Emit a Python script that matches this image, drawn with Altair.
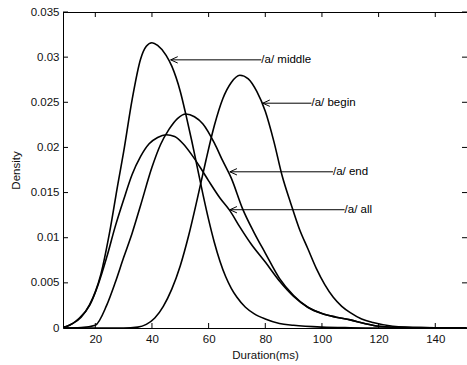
import altair as alt
import pandas as pd

# ---- curve data ----
x_middle = [8.6, 10, 12, 15, 18, 20, 22, 25, 28, 30, 33, 36, 38, 40, 42, 45, 47, 50, 52, 54, 56, 58, 60, 62, 64, 66, 68, 70, 73, 76, 80, 85, 90, 100, 110, 120, 151]
d_middle = [0.0001, 0.0002, 0.0005, 0.0012, 0.0026, 0.004, 0.006, 0.0105, 0.016, 0.0195, 0.0253, 0.0298, 0.0312, 0.0316, 0.0313, 0.0302, 0.029, 0.0262, 0.0236, 0.0208, 0.0178, 0.0148, 0.012, 0.0095, 0.0074, 0.0057, 0.0044, 0.0034, 0.0023, 0.0016, 0.001, 0.0005, 0.0003, 0.0001, 0.00003, 0.0, 0.0]

x_begin = [8.6, 30, 35, 38, 41, 44, 47, 50, 53, 56, 59, 62, 65, 68, 71, 74, 77, 80, 83, 86, 89, 92, 95, 98, 101, 104, 107, 110, 114, 118, 125, 135, 151]
d_begin = [0.0, 0.0, 0.0001, 0.0004, 0.0011, 0.0024, 0.0043, 0.0069, 0.0103, 0.0143, 0.0185, 0.0224, 0.0254, 0.0272, 0.028, 0.0276, 0.0262, 0.024, 0.0207, 0.0168, 0.0138, 0.011, 0.0088, 0.0066, 0.0048, 0.0034, 0.0024, 0.0017, 0.001, 0.0006, 0.0002, 0.00005, 0.0]

x_end = [8.6, 15, 20, 24, 27, 30, 33, 36, 40, 43, 46, 49, 52, 55, 58, 62, 65, 68, 72, 76, 80, 85, 90, 95, 100, 105, 110, 115, 120, 130, 151]
d_end = [0.0, 0.00005, 0.0003, 0.0025, 0.005, 0.0078, 0.0105, 0.0136, 0.0178, 0.0203, 0.022, 0.0232, 0.0237, 0.0234, 0.0226, 0.0205, 0.0185, 0.0166, 0.0132, 0.0106, 0.0083, 0.0055, 0.0036, 0.0023, 0.0016, 0.0012, 0.0009, 0.0005, 0.0002, 0.00005, 0.0]

x_all = [8.6, 10, 14, 18, 21, 24, 27, 30, 33, 36, 39, 42, 45, 48, 51, 54, 57, 60, 64, 67.5, 71, 75, 80, 85, 90, 95, 100, 105, 110, 115, 120, 130, 151]
d_all = [0.0001, 0.0002, 0.001, 0.0025, 0.0048, 0.0078, 0.0112, 0.0142, 0.017, 0.019, 0.0204, 0.0211, 0.0214, 0.0212, 0.0204, 0.0192, 0.0178, 0.0163, 0.0144, 0.013, 0.0112, 0.0093, 0.0073, 0.0052, 0.0035, 0.0023, 0.0016, 0.0012, 0.0009, 0.0005, 0.0002, 0.00005, 0.0]

# ---- annotations ----
labels = ["/a/ middle", "/a/ begin", "/a/ end", "/a/ all"]
tip_x = [46.6, 79.1, 67.5, 67.5]
tip_y = [0.0297, 0.0249, 0.0173, 0.0131]
text_x = [78.6, 96.3, 103.9, 108.0]

# ---- ticks ----
x_ticks = [20, 40, 60, 80, 100, 120, 140]
y_ticks = [0, 0.005, 0.01, 0.015, 0.02, 0.025, 0.03, 0.035]

W, H = 404, 316
FONT = "Liberation Sans"

rows = []
for name, xs, ds in [("middle", x_middle, d_middle), ("begin", x_begin, d_begin),
                     ("end", x_end, d_end), ("all", x_all, d_all)]:
    rows += [{"curve": name, "x": a, "d": b} for a, b in zip(xs, ds)]
df = pd.DataFrame(rows)

ann = pd.DataFrame({"label": labels, "tx": tip_x, "ty": tip_y, "lx": text_x})

xscale = alt.Scale(domain=[8.6, 151.2], nice=False, zero=False)
yscale = alt.Scale(domain=[0, 0.035], nice=False, zero=False)

lines = alt.Chart(df).mark_line(color="black", strokeWidth=1.6, interpolate="monotone", clip=True).encode(
    x=alt.X("x:Q", scale=xscale,
            axis=alt.Axis(values=x_ticks, title="Duration(ms)", labelPadding=5, titlePadding=5)),
    y=alt.Y("d:Q", scale=yscale,
            axis=alt.Axis(values=y_ticks, format="~g", title="Density", labelPadding=4, titlePadding=9)),
    detail="curve:N",
    order="x:Q",
)

arrow_lines = alt.Chart(ann).mark_rule(color="black", strokeWidth=1).encode(
    x=alt.X("tx:Q", scale=xscale), x2="lx:Q", y=alt.Y("ty:Q", scale=yscale)
)
arrow_heads = alt.Chart(ann).mark_point(
    shape="M0,0L1,-0.45M0,0L1,0.45", filled=False, color="black", strokeWidth=1, size=200, opacity=1
).encode(x=alt.X("tx:Q", scale=xscale), y=alt.Y("ty:Q", scale=yscale))
arrow_text = alt.Chart(ann).mark_text(
    align="left", baseline="middle", font=FONT, fontSize=11.5, color="black"
).encode(x=alt.X("lx:Q", scale=xscale), y=alt.Y("ty:Q", scale=yscale), text="label:N")

xt = pd.DataFrame({"v": x_ticks})
yt = pd.DataFrame({"v": y_ticks})
tick_bottom = alt.Chart(xt).mark_rule(color="black").encode(
    x=alt.X("v:Q", scale=xscale), y=alt.value(H), y2=alt.value(H - 5))
tick_top = alt.Chart(xt).mark_rule(color="black").encode(
    x=alt.X("v:Q", scale=xscale), y=alt.value(0), y2=alt.value(5))
tick_left = alt.Chart(yt).mark_rule(color="black").encode(
    y=alt.Y("v:Q", scale=yscale), x=alt.value(0), x2=alt.value(5))
tick_right = alt.Chart(yt).mark_rule(color="black").encode(
    y=alt.Y("v:Q", scale=yscale), x=alt.value(W - 5), x2=alt.value(W))
top_border = alt.Chart(xt).mark_rule(color="black").encode(
    x=alt.value(0), x2=alt.value(W), y=alt.value(0.5))

chart = alt.layer(
    lines, arrow_lines, arrow_heads, arrow_text,
    tick_bottom, tick_top, tick_left, tick_right, top_border
).properties(
    width=W, height=H,
    background="white",
    autosize=alt.AutoSizeParams(type="none"),
    padding={"left": 63, "top": 12, "right": 0, "bottom": 37},
).configure_view(stroke=None).configure_axis(
    grid=False, ticks=False, domainColor="black", domainWidth=1,
    labelFont=FONT, labelFontSize=11.5, labelColor="#111",
    titleFont=FONT, titleFontSize=11.5, titleFontWeight="normal", titleColor="#111",
)

chart.save("out.html", embed_options={"renderer": "svg", "actions": False})
